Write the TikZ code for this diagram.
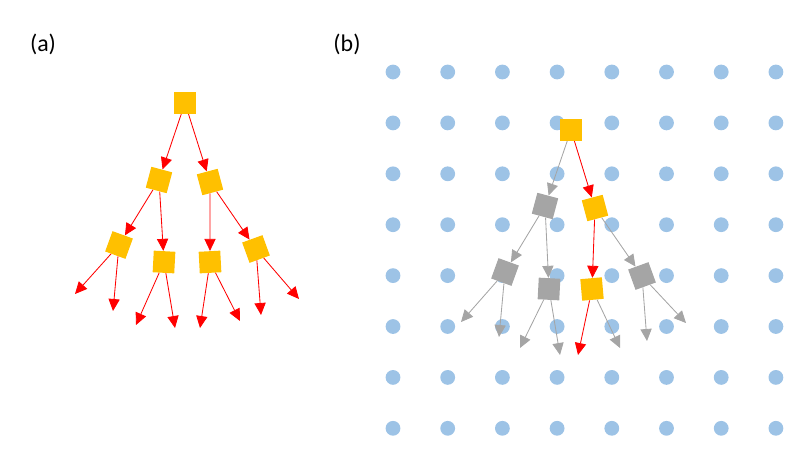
\documentclass[tikz,border=0pt]{standalone}
\usepackage{fontspec}
\setmainfont{Carlito}
\usepackage{xcolor}
\usepackage{tikz}
\usetikzlibrary{arrows.meta}
\definecolor{gold}{HTML}{FFC000}
\definecolor{slate}{HTML}{A5A5A5}
\definecolor{sky}{HTML}{9DC3E6}
\tikzset{
  sq/.style={rectangle, minimum size=0.54cm, inner sep=0pt},
  ysq/.style={sq, fill=gold},
  gsq/.style={sq, fill=slate},
  line/.style={-{Triangle[length=3mm,width=2.8mm]}, line width=0.6pt},
  rline/.style={line, red},
  gline/.style={line, slate},
  site/.style={circle, fill=sky, minimum size=0.37cm, inner sep=0pt},
  lbl/.style={font=\fontsize{17}{20}\selectfont}
}
\begin{document}
\begin{tikzpicture}[x=0.025cm, y=-0.025cm]
  \useasboundingbox (0,0) rectangle (800,454);
  \node[lbl] (la) at (43,44) {(a)};
  \node[lbl] (lb) at (347,44) {(b)};

  % lattice of (b)
  \foreach \i in {0,...,7}
    \foreach \j in {0,...,7}
      \node[site] (s\i\j) at ({393+54.7*\i},{72+50.9*\j}) {};

  % (a) tree
  \node[ysq] (aroot) at (185,103) {};
  \node[ysq, rotate=-15] (aL) at (159,180) {};
  \node[ysq, rotate=15] (aR) at (210,182) {};
  \node[ysq, rotate=-20] (aLL) at (119,245) {};
  \node[ysq, rotate=-3] (aLR) at (164,262) {};
  \node[ysq, rotate=3] (aRL) at (210,262) {};
  \node[ysq, rotate=20] (aRR) at (256,249) {};
  \coordinate (aLL1) at (75,294);
  \coordinate (aLL2) at (113,311);
  \coordinate (aLR1) at (136,325);
  \coordinate (aLR2) at (175,328);
  \coordinate (aRL1) at (200,328);
  \coordinate (aRL2) at (240,321);
  \coordinate (aRR1) at (261,315);
  \coordinate (aRR2) at (299,299);
  \draw[rline] (aroot) -- (aL);
  \draw[rline] (aroot) -- (aR);
  \draw[rline] (aL) -- (aLL);
  \draw[rline] (aL) -- (aLR);
  \draw[rline] (aR) -- (aRL);
  \draw[rline] (aR) -- (aRR);
  \foreach \n in {LL,LR,RL,RR} {
    \draw[rline] (a\n) -- (a\n1);
    \draw[rline] (a\n) -- (a\n2);
  }

  % (b) tree on the lattice
  \node[ysq] (broot) at (571,130) {};
  \node[gsq, rotate=-15] (bL) at (545,206) {};
  \node[ysq, rotate=15] (bR) at (595,208) {};
  \node[gsq, rotate=-20] (bLL) at (505,272) {};
  \node[gsq, rotate=-3] (bLR) at (549,289) {};
  \node[ysq, rotate=5] (bRL) at (592,289) {};
  \node[gsq, rotate=20] (bRR) at (642,276) {};
  \coordinate (bLL1) at (461,322);
  \coordinate (bLL2) at (499,337);
  \coordinate (bLR1) at (520,348);
  \coordinate (bLR2) at (560,355);
  \coordinate (bRL1) at (578,355);
  \coordinate (bRL2) at (620,348);
  \coordinate (bRR1) at (647,341);
  \coordinate (bRR2) at (686,323);
  \draw[gline] (broot) -- (bL);
  \draw[rline] (broot) -- (bR);
  \draw[gline] (bL) -- (bLL);
  \draw[gline] (bL) -- (bLR);
  \draw[rline] (bR) -- (bRL);
  \draw[gline] (bR) -- (bRR);
  \foreach \n in {LL,LR,RR} {
    \draw[gline] (b\n) -- (b\n1);
    \draw[gline] (b\n) -- (b\n2);
  }
  \draw[rline] (bRL) -- (bRL1);
  \draw[gline] (bRL) -- (bRL2);
\end{tikzpicture}
\end{document}
